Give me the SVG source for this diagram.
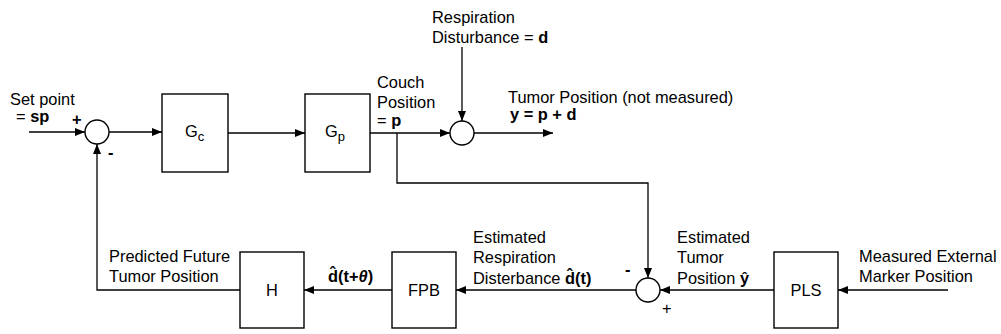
<svg xmlns="http://www.w3.org/2000/svg" width="1001" height="334" viewBox="0 0 1001 334">
<style>
.bx{fill:#fff;stroke:#000;stroke-width:1.4}
.ln{fill:none;stroke:#000;stroke-width:1.3}
.ar{fill:none;stroke:#000;stroke-width:1.3;marker-end:url(#ah)}
text{font-family:"Liberation Sans",Arial,sans-serif;font-size:16.4px;fill:#000}
.b{font-weight:bold}
.c{text-anchor:middle}
</style>
<defs>
<marker id="ah" viewBox="0 0 10 8" refX="10" refY="4" markerWidth="10" markerHeight="8" markerUnits="userSpaceOnUse" orient="auto">
<path d="M0,0L10,4L0,8z" fill="#000"/>
</marker>
</defs>
<g id="connectors">
<line class="ar" x1="29" y1="132" x2="85" y2="132"/>
<line class="ar" x1="109" y1="132" x2="162" y2="132"/>
<line class="ar" x1="228" y1="133" x2="305" y2="133"/>
<line class="ar" x1="370" y1="133" x2="450" y2="133"/>
<line class="ar" x1="474" y1="133" x2="553" y2="133"/>
<line class="ar" x1="462" y1="47" x2="462" y2="121"/>
<polyline class="ar" points="397,133 397,183 648,183 648,278"/>
<line class="ar" x1="948" y1="290" x2="838" y2="290"/>
<line class="ar" x1="774" y1="290" x2="660" y2="290"/>
<line class="ar" x1="636" y1="290" x2="456" y2="290"/>
<line class="ar" x1="392" y1="290" x2="304" y2="290"/>
<polyline class="ar" points="240,290 97,290 97,144"/>
</g>
<g id="sum1"><circle class="bx" cx="97" cy="132" r="12"/><text x="72" y="125" class="b">+</text><text x="108" y="158" class="b">-</text></g>
<g id="Gc"><rect class="bx" x="162" y="94" width="66" height="78"/><text x="185" y="137" font-size="17">G<tspan font-size="13" dy="4">c</tspan></text></g>
<g id="Gp"><rect class="bx" x="305" y="94" width="65" height="78"/><text x="325" y="137" font-size="17">G<tspan font-size="13" dy="4">p</tspan></text></g>
<g id="sum2"><circle class="bx" cx="462" cy="133" r="12"/></g>
<g id="sum3"><circle class="bx" cx="648" cy="290" r="12"/><text x="625" y="275" class="b" font-size="25">-</text><text x="662" y="314" font-size="19">+</text></g>
<g id="H"><rect class="bx" x="240" y="252" width="64" height="76"/><text x="272" y="296" class="c">H</text></g>
<g id="FPB"><rect class="bx" x="392" y="252" width="64" height="76"/><text x="424" y="296" class="c">FPB</text></g>
<g id="PLS"><rect class="bx" x="774" y="252" width="64" height="76"/><text x="806" y="296" class="c">PLS</text></g>
<g id="labels">
<text x="10" y="105">Set point</text>
<text x="16" y="122">= <tspan class="b">sp</tspan></text>
<text x="432" y="23">Respiration</text>
<text x="432" y="43">Disturbance = <tspan class="b">d</tspan></text>
<text x="377" y="88">Couch</text>
<text x="377" y="108">Position</text>
<text x="377" y="126">= <tspan class="b">p</tspan></text>
<text x="508" y="103">Tumor Position (not measured)</text>
<text x="510" y="120" class="b">y = p + d</text>
<text x="109" y="262">Predicted Future</text>
<text x="109" y="282">Tumor Position</text>
<text x="328" y="282" class="b">d̂(t+<tspan font-style="italic">θ</tspan>)</text>
<text x="473" y="243">Estimated</text>
<text x="473" y="263">Respiration</text>
<text x="473" y="284">Disterbance <tspan class="b">d̂(t)</tspan></text>
<text x="677" y="243">Estimated</text>
<text x="677" y="263">Tumor</text>
<text x="677" y="284">Position <tspan class="b">ŷ</tspan></text>
<text x="859" y="262">Measured External</text>
<text x="859" y="282">Marker Position</text>
</g>
</svg>
